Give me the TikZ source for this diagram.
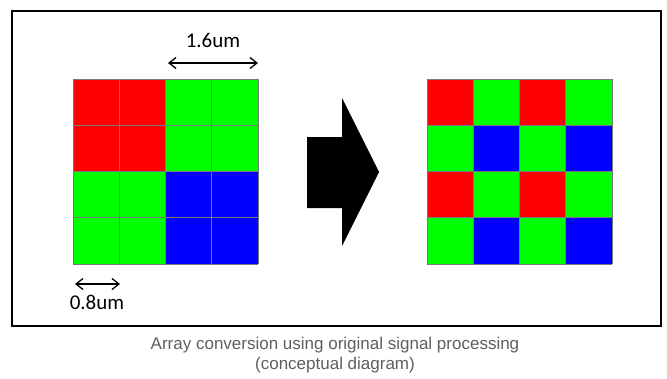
\documentclass[tikz,border=0pt]{standalone}
\usepackage{fontspec}
\setmainfont{Carlito}
\newfontfamily\capfont{Liberation Sans}
\usepackage{tikz}
\usetikzlibrary{positioning,arrows.meta}

\definecolor{pxR}{RGB}{255,0,0}
\definecolor{pxG}{RGB}{0,255,0}
\definecolor{pxB}{RGB}{0,0,255}
\definecolor{gridgray}{RGB}{120,120,120}
\definecolor{capgray}{RGB}{95,95,95}

\begin{document}
\begin{tikzpicture}[
  x=1pt, y=-1pt,
  cell/.style={draw=gridgray, line width=0.9pt},
  dim/.style={{Straight Barb[length=7pt, width=11pt]}-{Straight Barb[length=7pt, width=11pt]}, line width=1.3pt},
  lab/.style={font=\fontsize{21}{24}\selectfont, inner sep=0pt},
  >=Stealth
]
\useasboundingbox (0,0) rectangle (667,378);
\fill[white] (0,0) rectangle (667,378);

% outer frame
\draw[line width=2.5pt] (12,11) rectangle (661,326);

% 2x2 binned array (left)
\foreach \row [count=\r from 0] in {{pxR,pxR,pxG,pxG},{pxR,pxR,pxG,pxG},{pxG,pxG,pxB,pxB},{pxG,pxG,pxB,pxB}}
  \foreach \c [count=\k from 0] in \row
    \fill[\c] (73+46.25*\k, 79+46.25*\r) rectangle ++(46.25,46.25);

% converted bayer array (right)
\foreach \row [count=\r from 0] in {{pxR,pxG,pxR,pxG},{pxG,pxB,pxG,pxB},{pxR,pxG,pxR,pxG},{pxG,pxB,pxG,pxB}}
  \foreach \c [count=\k from 0] in \row
    \fill[\c] (427+46.25*\k, 79+46.25*\r) rectangle ++(46.25,46.25);

% pixel borders
\foreach \x in {73,427}
  \foreach \i in {0,...,4} {
    \draw[cell] (\x+46.25*\i, 79) -- ++(0,185);
    \draw[cell] (\x, 79+46.25*\i) -- ++(185,0);
  }

% big block arrow
\fill (307,137) -- (342,137) -- (342,98) -- (379,172) -- (342,246)
  -- (342,208) -- (307,208) -- cycle;

% dimension marks
\coordinate (bigL) at (168,63);
\coordinate (bigR) at (258,63);
\node[lab] (lbig) at (213,40) {1.6um};
\draw[dim] (bigL) -- (bigR);

\coordinate (smallL) at (75,284);
\coordinate (smallR) at (120,284);
\node[lab] (lsmall) at (97,302) {0.8um};
\draw[dim] (smallL) -- (smallR);

% caption
\node[font=\capfont\fontsize{17}{19.5}\selectfont, text=capgray, align=center,
  inner sep=0pt] (caption) at (335,355)
  {Array conversion using original signal processing\\(conceptual diagram)};
\end{tikzpicture}
\end{document}
